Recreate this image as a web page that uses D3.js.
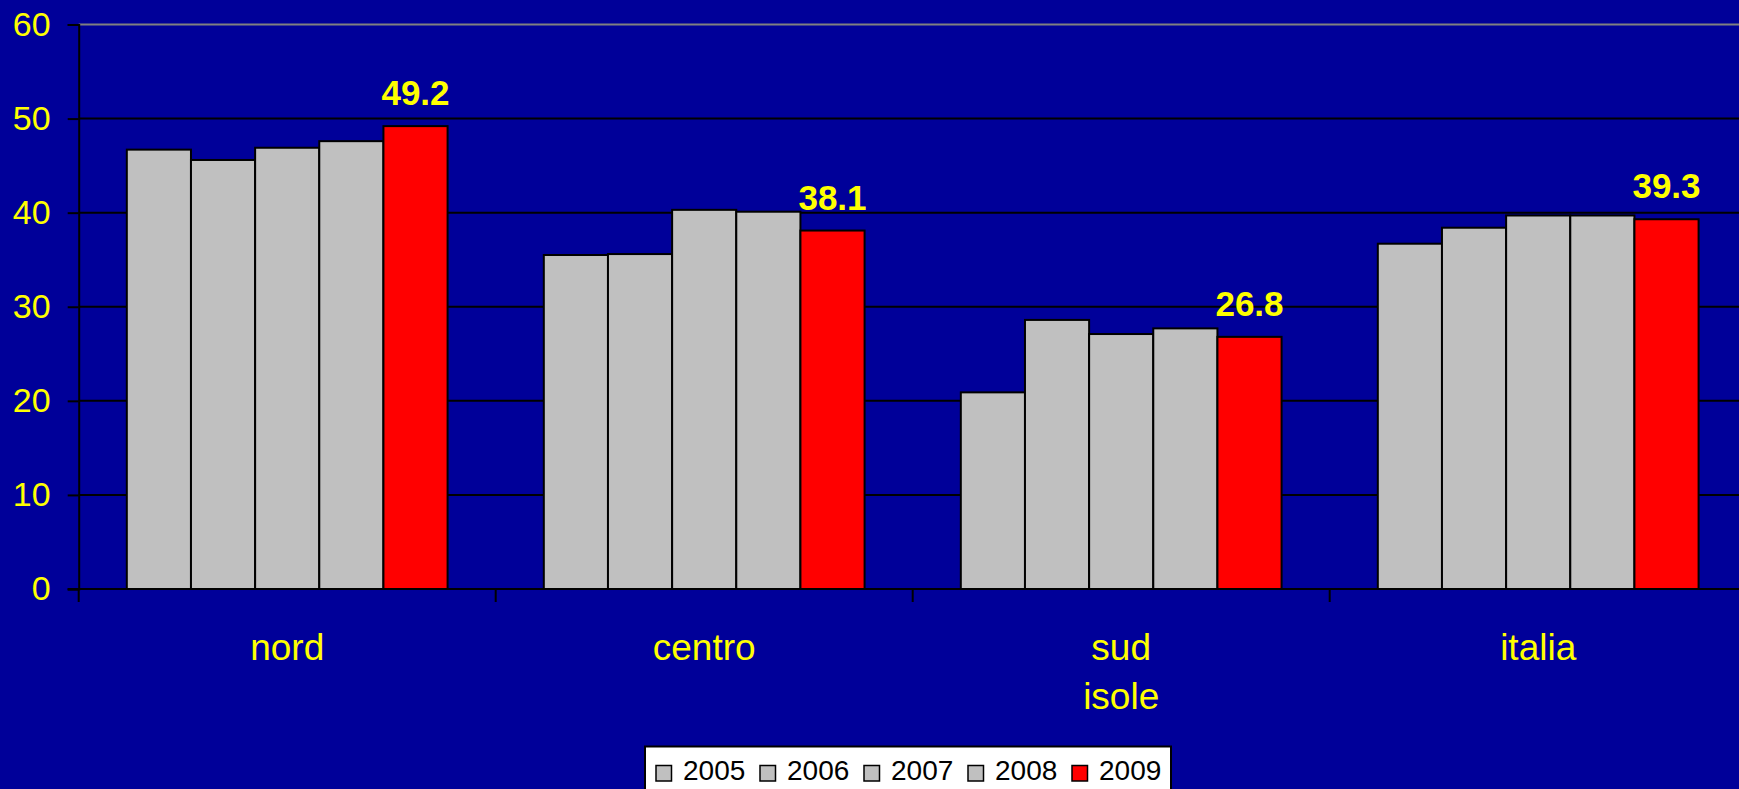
<!DOCTYPE html>
<html>
<head>
<meta charset="utf-8">
<script src="https://cdn.jsdelivr.net/npm/d3@7"></script>
<style>
  html, body { margin: 0; padding: 0; background: #000099; }
  svg { display: block; }
  text { font-family: "Liberation Sans", Arial, sans-serif; }
</style>
</head>
<body>
<svg id="chart"></svg>
<script>
var categories = [["nord"], ["centro"], ["sud", "isole"], ["italia"]];
var years = ["2005", "2006", "2007", "2008", "2009"];
var values = [
    [46.7, 45.6, 46.9, 47.6, 49.2],   // nord
    [35.5, 35.6, 40.3, 40.1, 38.1],   // centro
    [20.9, 28.6, 27.1, 27.7, 26.8],   // sud isole
    [36.7, 38.4, 39.7, 39.7, 39.3]    // italia
];
var yTicks = [0, 10, 20, 30, 40, 50, 60];
var colors = ["#c0c0c0", "#c0c0c0", "#c0c0c0", "#c0c0c0", "#ff0000"];

var width = 1739, height = 789;
var plotLeft = 78.7, catW = 417, plotTop = 24.5, plotBottom = 589;

var svg = d3.select("#chart")
    .attr("width", width)
    .attr("height", height);

svg.append("rect")
    .attr("width", width)
    .attr("height", height)
    .attr("fill", "#000099");

var x = d3.scaleBand()
    .domain(d3.range(categories.length))
    .range([plotLeft, plotLeft + catW * categories.length]);

// excel style: gap width 150% of a bar
var barW = catW / (years.length + 1.5);
var xs = d3.scaleBand()
    .domain(years)
    .range([barW * 0.75, catW - barW * 0.75]);

var y = d3.scaleLinear().domain([0, 60]).range([plotBottom, plotTop]);

// grid lines
svg.append("g")
    .selectAll("line")
    .data(yTicks.filter(function(d) { return d > 0; }))
    .join("line")
    .attr("x1", plotLeft)
    .attr("x2", width)
    .attr("y1", function(d) { return y(d); })
    .attr("y2", function(d) { return y(d); })
    .attr("stroke", function(d) { return d == 60 ? "#808080" : "#000"; })
    .attr("stroke-width", 2);

// bars
var groups = svg.append("g")
    .selectAll("g")
    .data(values)
    .join("g")
    .attr("transform", function(d, i) { return "translate(" + x(i) + ",0)"; });

groups.selectAll("rect")
    .data(function(d) { return d; })
    .join("rect")
    .attr("x", function(d, j) { return xs(years[j]); })
    .attr("width", xs.bandwidth())
    .attr("y", function(d) { return y(d); })
    .attr("height", function(d) { return y(0) - y(d); })
    .attr("fill", function(d, j) { return colors[j]; })
    .attr("stroke", "#000")
    .attr("stroke-width", 2);

// labels for 2009
groups.append("text")
    .attr("x", xs("2009") + xs.bandwidth() / 2)
    .attr("y", function(d) { return y(d[4]) - 21; })
    .attr("text-anchor", "middle")
    .attr("fill", "#ffff00")
    .attr("font-weight", "bold")
    .attr("font-size", 35)
    .text(function(d) { return d[4].toFixed(1); });

// y axis
var yAxis = svg.append("g")
    .attr("transform", "translate(" + plotLeft + ",0)")
    .call(d3.axisLeft(y).tickValues(yTicks).tickSize(11).tickPadding(17));
yAxis.select(".domain").attr("stroke", "#000").attr("stroke-width", 2);
yAxis.selectAll(".tick line").attr("stroke", "#000").attr("stroke-width", 2);
yAxis.selectAll(".tick text")
    .attr("fill", "#ffff00")
    .attr("font-size", 34)
    .attr("font-family", "Liberation Sans, Arial, sans-serif");

// x axis line and category ticks
svg.append("line")
    .attr("x1", plotLeft - 11).attr("x2", width)
    .attr("y1", plotBottom).attr("y2", plotBottom)
    .attr("stroke", "#000").attr("stroke-width", 2);

svg.append("g")
    .selectAll("line")
    .data(d3.range(categories.length))
    .join("line")
    .attr("x1", function(i) { return x(i); })
    .attr("x2", function(i) { return x(i); })
    .attr("y1", plotBottom)
    .attr("y2", plotBottom + 13)
    .attr("stroke", "#000")
    .attr("stroke-width", 2);

// category labels
var catLabels = svg.append("g")
    .selectAll("text")
    .data(categories)
    .join("text")
    .attr("x", function(d, i) { return x(i) + catW / 2; })
    .attr("y", 660)
    .attr("text-anchor", "middle")
    .attr("fill", "#ffff00")
    .attr("font-size", 37);

catLabels.selectAll("tspan")
    .data(function(d) { return d; })
    .join("tspan")
    .attr("x", function() { return this.parentNode.getAttribute("x"); })
    .attr("dy", function(d, i) { return i == 0 ? 0 : 49; })
    .text(function(d) { return d; });

// legend
var legend = svg.append("g").attr("transform", "translate(645,746.5)");
legend.append("rect")
    .attr("width", 526)
    .attr("height", 60)
    .attr("fill", "#fff")
    .attr("stroke", "#000")
    .attr("stroke-width", 2);

var items = legend.selectAll("g")
    .data(years)
    .join("g")
    .attr("transform", function(d, i) { return "translate(" + (11 + i * 104) + ",0)"; });

items.append("rect")
    .attr("y", 19)
    .attr("width", 15.5)
    .attr("height", 15.5)
    .attr("fill", function(d, i) { return colors[i]; })
    .attr("stroke", "#000")
    .attr("stroke-width", 1.5);

items.append("text")
    .attr("x", 27)
    .attr("y", 33)
    .attr("fill", "#000")
    .attr("font-size", 28)
    .text(function(d) { return d; });
</script>
</body>
</html>
